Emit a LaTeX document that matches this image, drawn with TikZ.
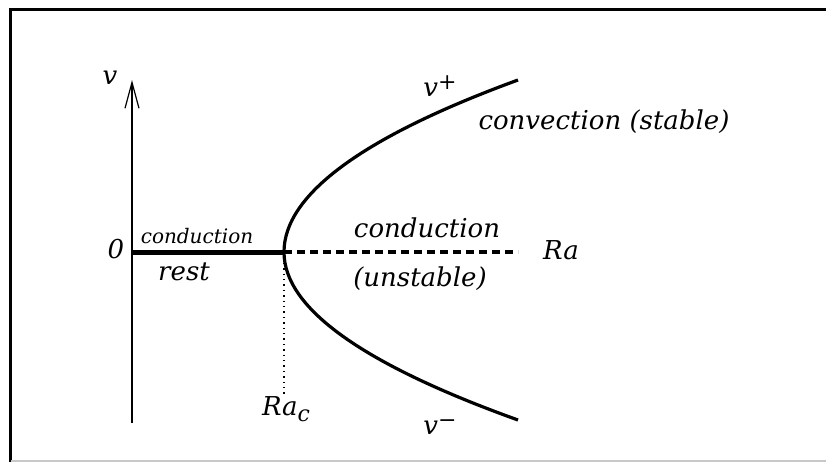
\documentclass[tikz,border=0pt]{standalone}
\usepackage{fontspec}
\setmainfont{DejaVu Serif}
\usepackage{tikz}
\usepackage{xcolor}
\usetikzlibrary{arrows.meta,positioning,calc}
\definecolor{frameGray}{RGB}{200,200,200}

\begin{document}
\begin{tikzpicture}[
    x=0.5pt, y=-0.5pt,
    lbl/.style={inner sep=0pt, font=\itshape\fontsize{13}{15}\selectfont},
    smalllbl/.style={inner sep=0pt, font=\itshape\fontsize{10}{12}\selectfont},
    axis/.style={line width=0.9pt, -{Straight Barb[length=13pt,width=7pt,line width=0.6pt]}},
    stablebranch/.style={line width=2.5pt},
    unstablebranch/.style={line width=2.3pt, dash pattern=on 4pt off 2.5pt},
    curve/.style={line width=1.6pt},
    guide/.style={line width=0.7pt, dotted}
]
\useasboundingbox (0,0) rectangle (826,462);

% frame
\draw[line width=1.5pt] (10.5,462) -- (10.5,9.5) -- (826,9.5);
\draw[frameGray, line width=0.6pt] (10.5,461) -- (826,461);

% anchor points
\coordinate (O)     at (132,252);
\coordinate (yTop)  at (132,80);
\coordinate (yBot)  at (132,423);
\coordinate (Rac)   at (284,252);
\coordinate (RaEnd) at (518,252);
\coordinate (vPlus) at (518,80);
\coordinate (vMinus) at (518,420);
\coordinate (RacFoot) at (284,394);

% axes and branches
\draw[axis] (yBot) -- (yTop);
\draw[stablebranch] (O) -- (Rac);
\draw[unstablebranch] (Rac) -- (RaEnd);
\draw[curve] (vPlus) .. controls (362,137) and (284,195) .. (Rac)
                     .. controls (284,308) and (362,364) .. (vMinus);
\draw[guide] (Rac) -- (RacFoot);

% labels
\node[lbl] (vLbl)    at (110,78)  {v};
\node[lbl] (zeroLbl) at (116,249) {0};
\node[lbl] (raLbl)   at (561,250) {Ra};
\node[lbl, anchor=north] (racLbl) at (286,396) {Ra\raisebox{-0.45ex}{\fontsize{11}{13}\selectfont c}};
\node[lbl] (vpLbl)   at (440,86)  {v\raisebox{0.55ex}{\fontsize{11}{13}\selectfont +}};
\node[lbl] (vmLbl)   at (440,427) {v\raisebox{0.55ex}{\fontsize{11}{13}\selectfont −}};
\node[smalllbl] (condRest) at (197,236) {conduction};
\node[lbl] (restLbl) at (184,272) {rest};
\node[lbl] (condUnst) at (427,228) {conduction};
\node[lbl] (unstLbl) at (420,279) {(unstable)};
\node[lbl] (convLbl) at (604,122) {convection (stable)};

\end{tikzpicture}
\end{document}
